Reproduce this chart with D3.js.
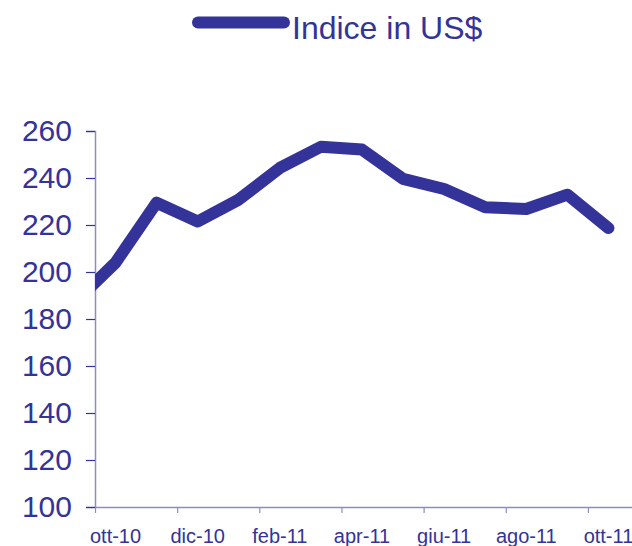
<!DOCTYPE html>
<html>
<head>
<meta charset="utf-8">
<script src="https://cdn.jsdelivr.net/npm/d3@7"></script>
<style>
  body { margin: 0; background: #fff; }
  svg { display: block; font-family: "Liberation Sans", Arial, sans-serif; }
</style>
</head>
<body>
<svg id="chart" width="632" height="546"></svg>
<script>
// months on the category axis (index 0 = ott-10); set-10 sits just left of the axis and is clipped
const months = ["ott-10", "nov-10", "dic-10", "gen-11", "feb-11", "mar-11", "apr-11",
                "mag-11", "giu-11", "lug-11", "ago-11", "set-11", "ott-11"]
const monthIndex = [-1, 0, 1, 2, 3, 4, 5, 6, 7, 8, 9, 10, 11, 12]
const indexValues = [187, 204, 229.5, 221.5, 230.8, 244.3, 253.3, 252.1, 239.6, 235.3, 227.6, 226.8, 232.9, 218.7]
const yTicks = [100, 120, 140, 160, 180, 200, 220, 240, 260]
const seriesName = "Indice in US$"

const blue = "#333399"
const axisColor = "#8c8cc6"

const svg = d3.select("#chart")
const plotLeft = 95, plotRight = 629, plotTop = 131, plotBottom = 507

const x = d3.scaleLinear().domain([-0.5, months.length - 0.5]).range([plotLeft, plotRight])
const y = d3.scaleLinear().domain([100, 260]).range([plotBottom, plotTop])

svg.append("defs").append("clipPath").attr("id", "plot")
  .append("rect")
  .attr("x", plotLeft).attr("y", 0)
  .attr("width", 632 - plotLeft).attr("height", plotBottom)

// y axis
const yAxis = svg.append("g")
  .attr("transform", `translate(${plotLeft},0)`)
  .call(d3.axisLeft(y).tickValues(yTicks).tickSize(9).tickPadding(14))
yAxis.select(".domain").attr("stroke", axisColor).attr("stroke-width", 1.5)
yAxis.selectAll(".tick line").attr("stroke", blue).attr("stroke-width", 1.2)
yAxis.selectAll(".tick text")
  .attr("fill", blue).attr("font-size", 30)
  .attr("font-family", "Liberation Sans, Arial, sans-serif")

// x axis: ticks every two months on boundaries, labels on category centres
const xAxis = svg.append("g")
  .attr("transform", `translate(0,${plotBottom})`)
  .call(d3.axisBottom(x)
    .tickValues(d3.range(-0.5, months.length - 0.5, 2))
    .tickSize(6).tickSizeOuter(0).tickFormat(""))
xAxis.select(".domain").attr("stroke", axisColor).attr("stroke-width", 1.5)
  .attr("d", `M${plotLeft},0.5H632`)
xAxis.selectAll(".tick line").attr("stroke", axisColor).attr("stroke-width", 1.2)

svg.append("g")
  .selectAll("text")
  .data(months.filter((m, i) => i % 2 === 0))
  .enter()
  .append("text")
  .attr("x", d => x(months.indexOf(d)))
  .attr("y", 543)
  .attr("text-anchor", "middle")
  .attr("fill", blue)
  .attr("font-size", 20)
  .text(d => d)

// series line
const line = d3.line()
  .x((d, i) => x(monthIndex[i]))
  .y(d => y(d))

svg.append("path")
  .datum(indexValues)
  .attr("clip-path", "url(#plot)")
  .attr("d", line)
  .attr("fill", "none")
  .attr("stroke", blue)
  .attr("stroke-width", 12)
  .attr("stroke-linejoin", "round")
  .attr("stroke-linecap", "round")

// legend
const legend = svg.append("g")
legend.append("line")
  .attr("x1", 198).attr("x2", 284)
  .attr("y1", 22.5).attr("y2", 22.5)
  .attr("stroke", blue)
  .attr("stroke-width", 12)
  .attr("stroke-linecap", "round")
legend.append("text")
  .attr("x", 292).attr("y", 39)
  .attr("fill", blue)
  .attr("font-size", 32)
  .text(seriesName)
</script>
</body>
</html>
